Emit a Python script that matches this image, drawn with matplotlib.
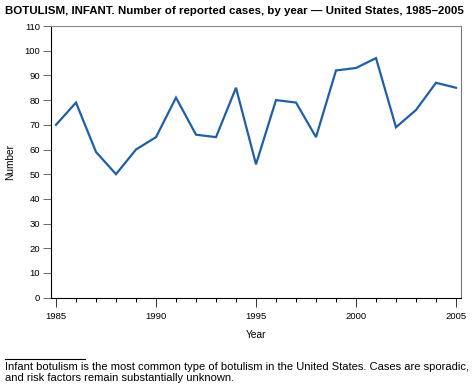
import matplotlib
matplotlib.use('Agg')
import matplotlib.pyplot as plt
from matplotlib.ticker import MultipleLocator

# Data
years = [1985, 1986, 1987, 1988, 1989, 1990, 1991, 1992, 1993, 1994, 1995,
         1996, 1997, 1998, 1999, 2000, 2001, 2002, 2003, 2004, 2005]
cases = [70, 79, 59, 50, 60, 65, 81, 66, 65, 85, 54,
         80, 79, 65, 92, 93, 97, 69, 76, 87, 85]
xticks = [1985, 1990, 1995, 2000, 2005]
yticks = list(range(0, 111, 10))

title = 'BOTULISM, INFANT. Number of reported cases, by year \u2014 United States, 1985\u20132005'
footnote = ('Infant botulism is the most common type of botulism in the United States. Cases are sporadic,\n'
            'and risk factors remain substantially unknown.')

plt.rcParams['font.family'] = ['Liberation Sans', 'DejaVu Sans']

fig = plt.figure(figsize=(4.74, 3.89), dpi=100)
ax = fig.add_axes([51/474, 1 - 297.7/389, 410/474, (297.7 - 26)/389])

ax.plot(years, cases, color='#1f5fa6', lw=1.6, solid_joinstyle='miter')

ax.set_xlim(1984.75, 2005.25)
ax.set_ylim(0, 110)
ax.set_xticks(xticks)
ax.xaxis.set_minor_locator(MultipleLocator(1))
ax.set_yticks(yticks)
ax.tick_params(axis='both', labelsize=6.8, width=0.7, color='#333333', pad=2)
ax.tick_params(axis='x', which='major', length=6.5, pad=4)
ax.tick_params(axis='x', which='minor', length=3, width=0.7)
ax.tick_params(axis='y', length=5.8, color='#666666')
for s in ax.spines.values():
    s.set_linewidth(0.8)
ax.spines['right'].set_color('#777777')
ax.spines['top'].set_color('#888888')

ax.set_xlabel('Year', fontsize=7.3, labelpad=6)
ax.set_ylabel('Number', fontsize=7.3, labelpad=7)

fig.text(5/474, 1 - 11/389, title, fontsize=8.25, fontweight='bold', va='center', ha='left')

# short rule above the footnote
fig.add_artist(plt.Line2D([5/474, 85/474], [1 - 359/389, 1 - 359/389], color='black', lw=0.8))
fig.text(5/474, 1 - 362/389, footnote, fontsize=8.0, va='top', ha='left', linespacing=1.12)

fig.savefig('out.png', dpi=100)
